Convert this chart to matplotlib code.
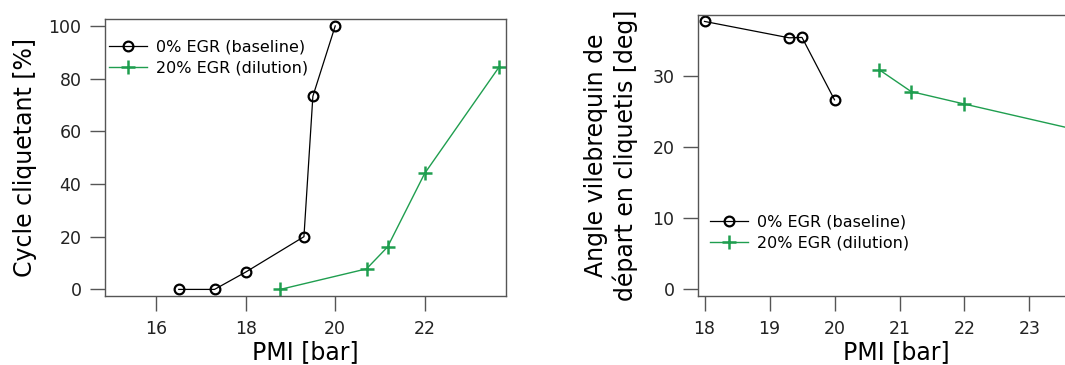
import matplotlib
matplotlib.use('Agg')
from matplotlib import pyplot as plt

plt.rcParams['font.family'] = ['DejaVu Sans']

# Cycle cliquetant [%] en fonction de la PMI
pmi_base = [16.5, 17.3, 18.0, 19.3, 19.5, 20.0]
cyc_base = [0, 0, 6.6, 20.0, 73.3, 100.0]
pmi_egr = [18.77, 20.7, 21.17, 22.0, 23.67]
cyc_egr = [0, 7.8, 16.1, 44.0, 84.5]

# Angle vilebrequin de depart en cliquetis [deg]
ang_base = [37.6, 35.3, 35.35, 26.6]
pmi_ang_base = [18.0, 19.3, 19.5, 20.0]
ang_egr = [30.8, 27.75, 26.0, 22.5]
pmi_ang_egr = [20.69, 21.18, 22.0, 23.67]

lab_base = '0% EGR (baseline)'
lab_egr = '20% EGR (dilution)'
green = '#1f9e4f'

W, H = 1065., 365.
fig = plt.figure(figsize=(W / 100, H / 100), dpi=100)


def style_axes(ax):
    for s in ax.spines.values():
        s.set_color('#555555')
        s.set_linewidth(1.0)
    ax.tick_params(direction='out', length=11, width=1.0, color='#555555',
                   labelsize=12.5, pad=6, labelcolor='#222222')


def draw(ax, xb, yb, xe, ye):
    ax.plot(xb, yb, '-o', color='black', lw=0.9, ms=7, mfc='none',
            mew=1.6, label=lab_base, clip_on=False)
    ax.plot(xe, ye, '-+', color=green, lw=1.0, ms=10, mew=1.8,
            label=lab_egr)


# panneau gauche
ax1 = fig.add_axes([105 / W, 1 - 296 / H, 401 / W, 276.7 / H])
draw(ax1, pmi_base, cyc_base, pmi_egr, cyc_egr)
ax1.set_xlim(14.85, 23.82)
ax1.set_ylim(-2.5, 102.5)
ax1.set_xticks([16, 18, 20, 22])
ax1.set_yticks([0, 20, 40, 60, 80, 100])
style_axes(ax1)
ax1.set_xlabel('PMI [bar]', fontsize=17, labelpad=2)
ax1.set_ylabel('Cycle cliquetant [%]', fontsize=17, labelpad=8)
ax1.legend(loc='upper left', bbox_to_anchor=(-0.015, 0.963), frameon=False,
           fontsize=11.5, handlelength=2.4, handletextpad=0.6,
           labelspacing=0.4, borderaxespad=0.2)

# panneau droit (coupe au bord de la figure)
ax2 = fig.add_axes([698 / W, 1 - 296 / H, 396.5 / W, 281 / H])
draw(ax2, pmi_ang_base, ang_base, pmi_ang_egr, ang_egr)
ax2.set_xlim(17.9, 24.0)
ax2.set_ylim(-0.94, 38.5)
ax2.set_xticks([18, 19, 20, 21, 22, 23])
ax2.set_yticks([0, 10, 20, 30])
style_axes(ax2)
ax2.set_xlabel('PMI [bar]', fontsize=17, labelpad=2)
ax2.set_ylabel('Angle vilebrequin de\ndépart en cliquetis [deg]',
               fontsize=17, labelpad=10, linespacing=1.25)
ax2.legend(loc='upper left', bbox_to_anchor=(0.005, 0.325), frameon=False,
           fontsize=11.5, handlelength=2.4, handletextpad=0.6,
           labelspacing=0.4, borderaxespad=0.2)

plt.savefig('out.png', dpi=100)
